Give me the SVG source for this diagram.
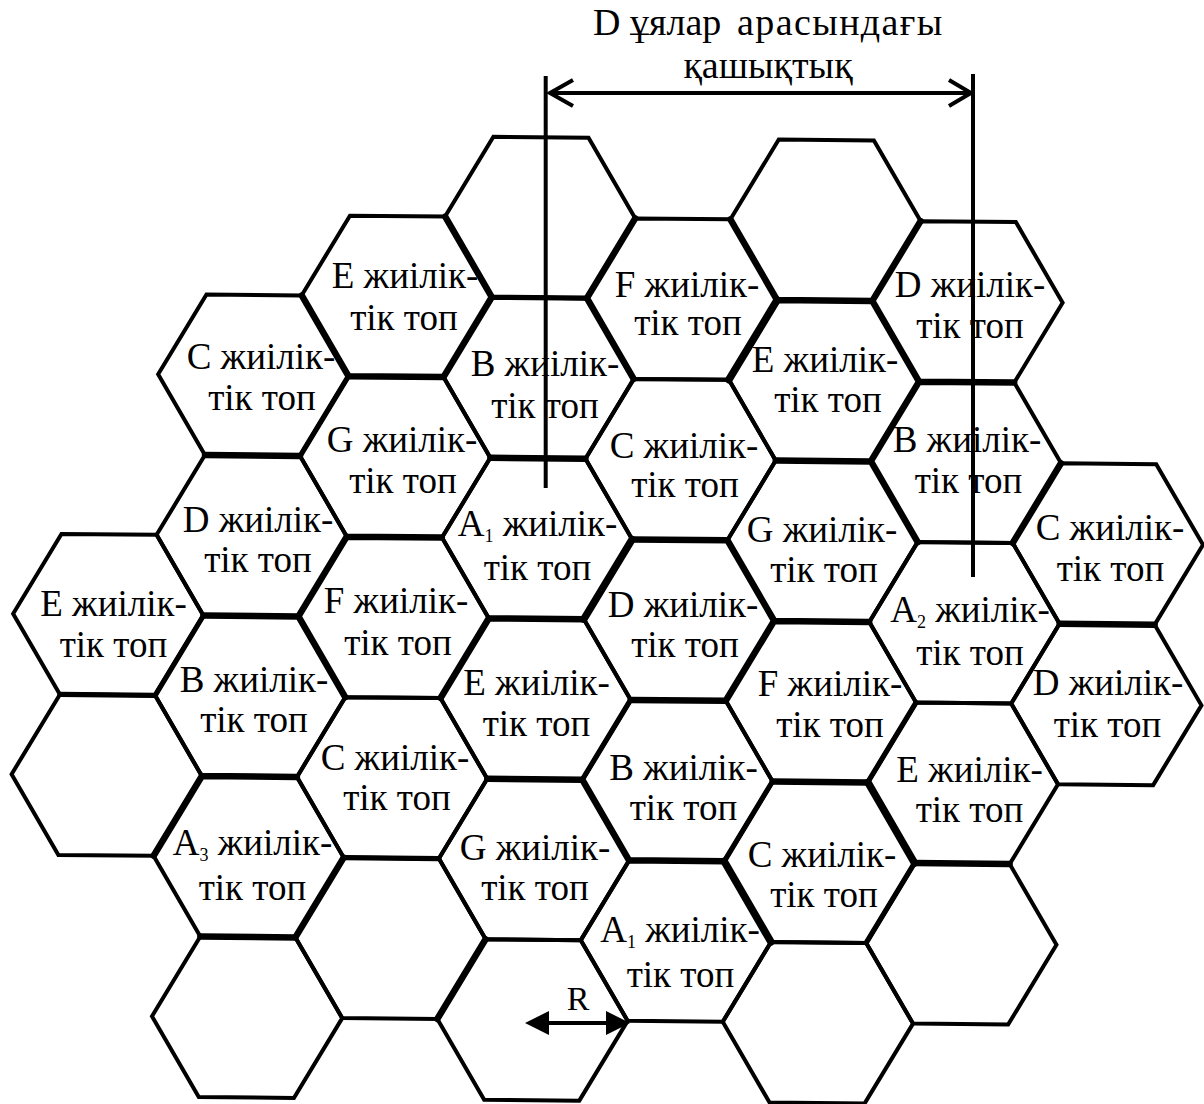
<svg xmlns="http://www.w3.org/2000/svg" width="1204" height="1104" viewBox="0 0 1204 1104">
<style>
text{font-family:"Liberation Serif","Times New Roman","DejaVu Serif",serif;font-size:37px;fill:#000}
.lb{text-anchor:middle}
.sb{font-size:18px}
.tt{font-size:38px}
.ln{fill:none;stroke:#000;stroke-width:4}
.tk{fill:none;stroke:#000;stroke-width:6.5;stroke-linecap:round}
.md{fill:none;stroke:#000;stroke-width:5.2;stroke-linecap:round}
.vk{fill:none;stroke:#000;stroke-width:7.5;stroke-linecap:round}
</style>
<defs>
<polygon id="hx" fill="none" stroke="#000" stroke-width="4" stroke-linejoin="miter" points="-95.13,0 -47.57,-80.25 47.57,-80.25 95.13,0 47.57,80.25 -47.57,80.25"/>
</defs>
<rect width="1204" height="1104" fill="#fff"/>

<!-- column 0 -->
<g id="cell-c0-E"><use href="#hx" x="109" y="618.75" transform="rotate(0.55 540 540)"/>
<text class="lb" x="113.5" y="616">E жиілік-</text><text class="lb" x="113.5" y="657">тік топ</text></g>
<g id="cell-c0-blank"><use href="#hx" x="109" y="779.25" transform="rotate(0.55 540 540)"/></g>

<!-- column 1 -->
<g id="cell-c1-C"><use href="#hx" x="251.7" y="378" transform="rotate(0.55 540 540)"/>
<text class="lb" x="261" y="369">C жиілік-</text><text class="lb" x="262" y="410">тік топ</text></g>
<g id="cell-c1-D"><use href="#hx" x="251.7" y="538.5" transform="rotate(0.55 540 540)"/>
<text class="lb" x="258" y="532">D жиілік-</text><text class="lb" x="258" y="572">тік топ</text></g>
<g id="cell-c1-B"><use href="#hx" x="251.7" y="699" transform="rotate(0.55 540 540)"/>
<text class="lb" x="254" y="692">B жиілік-</text><text class="lb" x="254" y="732">тік топ</text></g>
<g id="cell-c1-A3"><use href="#hx" x="251.7" y="859.5" transform="rotate(0.55 540 540)"/>
<text class="lb" x="252.5" y="855">A<tspan class="sb" dy="6">3</tspan><tspan dy="-6"> жиілік-</tspan></text><text class="lb" x="252.5" y="900">тік топ</text></g>
<g id="cell-c1-blank"><use href="#hx" x="251.7" y="1020" transform="rotate(0.55 540 540)"/></g>

<!-- column 2 -->
<g id="cell-c2-E"><use href="#hx" x="394.4" y="297.75" transform="rotate(0.55 540 540)"/>
<text class="lb" x="405" y="288">E жиілік-</text><text class="lb" x="404" y="330">тік топ</text></g>
<g id="cell-c2-G"><use href="#hx" x="394.4" y="458.25" transform="rotate(0.55 540 540)"/>
<text class="lb" x="402" y="452">G жиілік-</text><text class="lb" x="403" y="493">тік топ</text></g>
<g id="cell-c2-F"><use href="#hx" x="394.4" y="618.75" transform="rotate(0.55 540 540)"/>
<text class="lb" x="396" y="613">F жиілік-</text><text class="lb" x="398" y="655">тік топ</text></g>
<g id="cell-c2-C"><use href="#hx" x="394.4" y="779.25" transform="rotate(0.55 540 540)"/>
<text class="lb" x="395" y="770">C жиілік-</text><text class="lb" x="397" y="810">тік топ</text></g>
<g id="cell-c2-blank"><use href="#hx" x="394.4" y="939.75" transform="rotate(0.55 540 540)"/></g>

<!-- column 3 -->
<g id="cell-c3-blank-top"><use href="#hx" x="537.1" y="217.5" transform="rotate(0.55 540 540)"/></g>
<g id="cell-c3-B"><use href="#hx" x="537.1" y="378" transform="rotate(0.55 540 540)"/>
<text class="lb" x="545" y="376">B жиілік-</text><text class="lb" x="545" y="418">тік топ</text></g>
<g id="cell-c3-A1"><use href="#hx" x="537.1" y="538.5" transform="rotate(0.55 540 540)"/>
<text class="lb" x="537.5" y="536">A<tspan class="sb" dy="6">1</tspan><tspan dy="-6"> жиілік-</tspan></text><text class="lb" x="537.5" y="580">тік топ</text></g>
<g id="cell-c3-E"><use href="#hx" x="537.1" y="699" transform="rotate(0.55 540 540)"/>
<text class="lb" x="536.5" y="695">E жиілік-</text><text class="lb" x="536.5" y="736">тік топ</text></g>
<g id="cell-c3-G"><use href="#hx" x="537.1" y="859.5" transform="rotate(0.55 540 540)"/>
<text class="lb" x="535" y="860">G жиілік-</text><text class="lb" x="535" y="900">тік топ</text></g>
<g id="cell-c3-blank-bottom"><use href="#hx" x="537.1" y="1020" transform="rotate(0.55 540 540)"/></g>

<!-- column 4 -->
<g id="cell-c4-F"><use href="#hx" x="679.8" y="297.75" transform="rotate(0.55 540 540)"/>
<text class="lb" x="687" y="297">F жиілік-</text><text class="lb" x="688" y="335">тік топ</text></g>
<g id="cell-c4-C"><use href="#hx" x="679.8" y="458.25" transform="rotate(0.55 540 540)"/>
<text class="lb" x="684" y="458">C жиілік-</text><text class="lb" x="685" y="497">тік топ</text></g>
<g id="cell-c4-D"><use href="#hx" x="679.8" y="618.75" transform="rotate(0.55 540 540)"/>
<text class="lb" x="683" y="617">D жиілік-</text><text class="lb" x="685" y="657">тік топ</text></g>
<g id="cell-c4-B"><use href="#hx" x="679.8" y="779.25" transform="rotate(0.55 540 540)"/>
<text class="lb" x="683.5" y="780">B жиілік-</text><text class="lb" x="683.5" y="820">тік топ</text></g>
<g id="cell-c4-A1"><use href="#hx" x="679.8" y="939.75" transform="rotate(0.55 540 540)"/>
<text class="lb" x="680" y="942">A<tspan class="sb" dy="6">1</tspan><tspan dy="-6"> жиілік-</tspan></text><text class="lb" x="680.5" y="987">тік топ</text></g>

<!-- column 5 -->
<g id="cell-c5-blank-top"><use href="#hx" x="822.5" y="217.5" transform="rotate(0.55 540 540)"/></g>
<g id="cell-c5-E"><use href="#hx" x="822.5" y="378" transform="rotate(0.55 540 540)"/>
<text class="lb" x="825" y="372">E жиілік-</text><text class="lb" x="828" y="412">тік топ</text></g>
<g id="cell-c5-G"><use href="#hx" x="822.5" y="538.5" transform="rotate(0.55 540 540)"/>
<text class="lb" x="822" y="542">G жиілік-</text><text class="lb" x="824" y="582">тік топ</text></g>
<g id="cell-c5-F"><use href="#hx" x="822.5" y="699" transform="rotate(0.55 540 540)"/>
<text class="lb" x="830" y="696">F жиілік-</text><text class="lb" x="830" y="737">тік топ</text></g>
<g id="cell-c5-C"><use href="#hx" x="822.5" y="859.5" transform="rotate(0.55 540 540)"/>
<text class="lb" x="822" y="867">C жиілік-</text><text class="lb" x="824" y="907">тік топ</text></g>
<g id="cell-c5-blank-bottom"><use href="#hx" x="822.5" y="1020" transform="rotate(0.55 540 540)"/></g>

<!-- column 6 -->
<g id="cell-c6-D"><use href="#hx" x="965.2" y="297.75" transform="rotate(0.55 540 540)"/>
<text class="lb" x="970" y="297">D жиілік-</text><text class="lb" x="970" y="338">тік топ</text></g>
<g id="cell-c6-B"><use href="#hx" x="965.2" y="458.25" transform="rotate(0.55 540 540)"/>
<text class="lb" x="967" y="452">B жиілік-</text><text class="lb" x="968.5" y="493">тік топ</text></g>
<g id="cell-c6-A2"><use href="#hx" x="965.2" y="618.75" transform="rotate(0.55 540 540)"/>
<text class="lb" x="970" y="622">A<tspan class="sb" dy="6">2</tspan><tspan dy="-6"> жиілік-</tspan></text><text class="lb" x="970" y="665">тік топ</text></g>
<g id="cell-c6-E"><use href="#hx" x="965.2" y="779.25" transform="rotate(0.55 540 540)"/>
<text class="lb" x="969.5" y="782">E жиілік-</text><text class="lb" x="969.5" y="822">тік топ</text></g>
<g id="cell-c6-blank"><use href="#hx" x="965.2" y="939.75" transform="rotate(0.55 540 540)"/></g>

<!-- column 7 -->
<g id="cell-c7-C"><use href="#hx" x="1107.9" y="538.5" transform="rotate(0.55 540 540)"/>
<text class="lb" x="1110" y="540">C жиілік-</text><text class="lb" x="1110.5" y="581">тік топ</text></g>
<g id="cell-c7-D"><use href="#hx" x="1107.9" y="699" transform="rotate(0.55 540 540)"/>
<text class="lb" x="1108" y="695">D жиілік-</text><text class="lb" x="1107.5" y="737">тік топ</text></g>

<!-- heavier (doubled) cell borders -->
<g id="cell-borders" transform="rotate(0.55 540 540)">
<path class="tk" d="M489.6,297.75 L442.1,217.5 M632.1,217.5 L584.6,297.75 M489.4,297.75 L441.9,378 M584.6,297.75 L632.1,378 M727.3,217.5 L774.8,297.75 M775,297.75 L870,297.75 M917.5,217.5 L870,297.75 M870,297.75 L917.5,378 M1012.7,378 L917.7,378 M917.5,378 L870,458.25 M1060.2,458.25 L1012.7,538.5 M917.7,538.5 L870.2,458.25 M870,458.25 L775,458.25 M1155.4,618.75 L1060.4,618.75 M870,618.75 L775,618.75 M584.6,458.25 L489.6,458.25 M441.9,378 L346.9,378 M727.3,538.5 L632.3,538.5 M584.6,618.75 L489.6,618.75 M441.9,538.5 L346.9,538.5 M775,618.75 L727.5,538.5 M774.8,618.75 L727.3,699 M727.3,699 L632.3,699 M442.1,699 L489.6,618.75 M299.2,458.25 L204.2,458.25 M346.7,538.5 L299.2,618.75 M299.2,618.75 L204.2,618.75 M299.2,618.75 L346.7,699 M346.9,378 L299.4,297.75 M156.7,859.5 L204.2,779.25 M204.2,779.25 L299.2,779.25 M346.7,859.5 L299.2,939.75 M299.2,939.75 L204.2,939.75 M584.6,779.25 L489.6,779.25 M584.6,779.25 L632.1,859.5 M489.4,939.75 L441.9,1020 M727.3,859.5 L632.3,859.5 M870,779.25 L775,779.25 M1012.7,859.5 L917.7,859.5"/>
<path class="vk" d="M774.8,297.75 L727.3,378 M632.1,538.5 L584.6,618.75 M727.3,859.5 L774.8,939.75 M917.7,859.5 L870.2,779.25"/>
<path class="md" d="M584.6,297.75 L489.6,297.75 M299.4,458.25 L346.9,378 M156.7,699 L204.2,618.75 M156.5,699 L61.5,699 M441.9,859.5 L346.9,859.5 M632.1,699 L584.6,779.25 M774.8,779.25 L727.3,859.5 M917.5,699 L870,779.25 M917.5,859.5 L870,939.75"/>
</g>

<!-- dimension lines -->
<g id="connectors">
<line class="ln" x1="545.7" y1="76" x2="545.7" y2="488"/>
<line class="ln" x1="973" y1="74" x2="973" y2="577"/>
<line class="ln" x1="550" y1="93" x2="970" y2="93"/>
<polyline class="ln" points="573,80 550,93 573,106"/>
<polyline class="ln" points="949,80 971,93 949,106"/>
<line class="ln" x1="540" y1="1023" x2="615" y2="1023"/>
<polygon points="525,1023 549,1011 549,1035" fill="#000"/>
<polygon points="630,1023 606,1011 606,1035" fill="#000"/>
</g>

<g id="labels">
<text class="tt" y="35"><tspan x="593">D </tspan><tspan x="630">ұялар </tspan><tspan x="737" letter-spacing="1.4">арасындағы</tspan></text>
<text class="lb tt" x="768" y="78">қашықтық</text>
<text class="lb" x="578" y="1010" style="font-size:34px">R</text>
</g>
</svg>
